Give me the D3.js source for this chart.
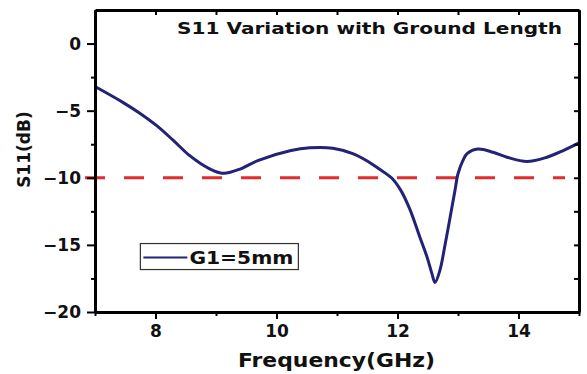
<!DOCTYPE html>
<html>
<head>
<meta charset="utf-8">
<script src="https://cdn.jsdelivr.net/npm/d3@7"></script>
<style>
  body { margin: 0; background: #fff; }
  text { font-family: "DejaVu Sans", "Liberation Sans", Arial, sans-serif; font-weight: bold; }
</style>
</head>
<body>
<svg id="chart" width="587" height="374"></svg>
<script>
// S11 curve (GHz, dB)
const freq = [7.0, 7.46, 7.74, 8.02, 8.29, 8.55, 8.75, 8.95, 9.13, 9.41, 9.69, 10.24, 10.55, 10.93, 11.26, 11.5,
  11.7, 11.9, 12.05, 12.2, 12.37, 12.49, 12.57, 12.62, 12.7, 12.79, 12.87, 12.95, 13.0, 13.08,
  13.15, 13.33, 13.58, 13.81, 14.14, 14.47, 14.74, 15.0];
const s11 = [-3.2, -4.38, -5.19, -6.12, -7.2, -8.3, -8.95, -9.45, -9.67, -9.33, -8.72, -7.97, -7.77, -7.8, -8.2, -8.75,
  -9.35, -10.0, -10.9, -12.3, -14.43, -15.93, -17.16, -17.8, -16.91, -14.9, -12.94, -10.95, -9.7, -8.72,
  -8.2, -7.85, -8.1, -8.47, -8.79, -8.47, -7.97, -7.4];
const xTicks = [8, 10, 12, 14];
const xMinor = [7, 9, 11, 13, 15];
const yTicks = [-20, -15, -10, -5, 0];
const yMinor = [-17.5, -12.5, -7.5, -2.5];
const threshold = -10;
const seriesName = "G1=5mm";
const title = "S11 Variation with Ground Length";

const margin = { left: 95, right: 8, top: 10, bottom: 62 };
const width = 587 - margin.left - margin.right;
const height = 374 - margin.top - margin.bottom;

const svg = d3.select("#chart");
const g = svg.append("g").attr("transform", "translate(" + margin.left + "," + margin.top + ")");

const x = d3.scaleLinear().domain([7, 15]).range([0, width]);
const y = d3.scaleLinear().domain([-20, 2.5]).range([height, 0]);

// reference line at -10 dB
g.append("line")
  .attr("x1", x(7) - 10).attr("x2", x(15) - 14)
  .attr("y1", y(threshold)).attr("y2", y(threshold))
  .attr("stroke", "#e32b2b").attr("stroke-width", 3)
  .attr("stroke-dasharray", "20,19");

// the curve
const line = d3.line()
  .x((d, i) => x(freq[i]))
  .y(d => y(d))
  .curve(d3.curveCatmullRom.alpha(0.5));

g.append("path")
  .datum(s11)
  .attr("d", line)
  .attr("fill", "none")
  .attr("stroke", "#222276")
  .attr("stroke-width", 3);

// axes
function styleAxis(sel) {
  sel.select(".domain").attr("stroke", "#000").attr("stroke-width", 3);
  sel.selectAll(".tick line").attr("stroke", "#000").attr("stroke-width", 2);
  sel.selectAll(".tick text").attr("font-size", 17).attr("fill", "#111");
}

g.append("g")
  .attr("transform", "translate(0," + height + ")")
  .call(d3.axisBottom(x).tickValues(xTicks).tickSize(7).tickSizeOuter(0).tickPadding(6).tickFormat(d3.format("d")))
  .call(styleAxis);
g.append("g")
  .attr("transform", "translate(0," + height + ")")
  .call(d3.axisBottom(x).tickValues(xMinor).tickSize(4).tickSizeOuter(0).tickFormat(""))
  .call(styleAxis);

g.append("g")
  .call(d3.axisLeft(y).tickValues(yTicks).tickSize(8).tickSizeOuter(0).tickPadding(6).tickFormat(d3.format("d")))
  .call(styleAxis);
g.append("g")
  .call(d3.axisLeft(y).tickValues(yMinor).tickSize(4).tickSizeOuter(0).tickFormat(""))
  .call(styleAxis);

// top and right: ticks pointing inward, no labels
g.append("g")
  .call(d3.axisTop(x).tickValues(xTicks.concat(xMinor)).tickSize(-5).tickSizeOuter(0).tickFormat(""))
  .call(styleAxis);
g.append("g")
  .attr("transform", "translate(" + width + ",0)")
  .call(d3.axisRight(y).tickValues(yTicks.concat(yMinor)).tickSize(-5).tickSizeOuter(0).tickFormat(""))
  .call(styleAxis);

// title inside the plot
g.append("text")
  .attr("x", 82).attr("y", 24)
  .attr("font-size", 16.5)
  .attr("textLength", 385).attr("lengthAdjust", "spacingAndGlyphs")
  .attr("fill", "#111")
  .text(title);

// axis titles
svg.append("text")
  .attr("x", 238).attr("y", 367)
  .attr("font-size", 19)
  .attr("textLength", 197).attr("lengthAdjust", "spacingAndGlyphs")
  .attr("fill", "#111")
  .text("Frequency(GHz)");

svg.append("text")
  .attr("transform", "translate(30," + (margin.top + y(-7.9)) + ") rotate(-90)")
  .attr("text-anchor", "middle")
  .attr("font-size", 17)
  .attr("fill", "#111")
  .text("S11(dB)");

// legend
const legend = g.append("g").attr("transform", "translate(" + (x(7.75)) + "," + (y(-14.9)) + ")");
legend.append("rect")
  .attr("width", 158).attr("height", 26)
  .attr("fill", "#fff").attr("stroke", "#333").attr("stroke-width", 1.2);
legend.append("line")
  .attr("x1", 3).attr("x2", 47).attr("y1", 14).attr("y2", 14)
  .attr("stroke", "#222276").attr("stroke-width", 2);
legend.append("text")
  .attr("x", 49).attr("y", 20)
  .attr("font-size", 17)
  .attr("textLength", 104).attr("lengthAdjust", "spacingAndGlyphs")
  .attr("fill", "#111")
  .text(seriesName);
</script>
</body>
</html>
